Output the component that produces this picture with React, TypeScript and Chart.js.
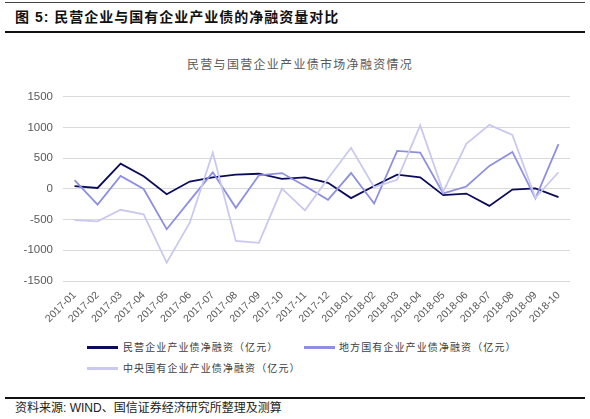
import React, { useEffect, useRef } from "react";
import { Chart, registerables } from "chart.js";

Chart.register(...registerables);

const categories = [
  "2017-01", "2017-02", "2017-03", "2017-04", "2017-05", "2017-06", "2017-07", "2017-08",
  "2017-09", "2017-10", "2017-11", "2017-12", "2018-01", "2018-02", "2018-03", "2018-04",
  "2018-05", "2018-06", "2018-07", "2018-08", "2018-09", "2018-10",
];

const privateNet = [47, 16, 413, 206, -85, 121, 190, 232, 248, 163, 187, 100, -149, 47, 232, 190, -101, -75, -276, -11, 10, -133];
const localSoeNet = [143, -254, 211, 0, -657, -190, 270, -308, 222, 259, 47, -178, 259, -238, 620, 592, -72, 40, 375, 603, -152, 732];
const centralSoeNet = [-508, -529, -339, -413, -1201, -550, 592, -847, -879, 5, -349, 170, 671, 30, 150, 1036, -45, 735, 1044, 880, -146, 272];

const yTicks = [-1500, -1000, -500, 0, 500, 1000, 1500];

const seriesNames = [
  "民营企业产业债净融资（亿元）",
  "地方国有企业产业债净融资（亿元）",
  "中央国有企业产业债净融资（亿元）",
];
const seriesColors = ["#0b0b5c", "#8f8fe2", "#c9c9f0"];

const cjk = '"Noto Sans CJK SC", "Liberation Sans", sans-serif';
const latin = '"Liberation Sans", "Noto Sans CJK SC", sans-serif';

export default function App() {
  const canvasRef = useRef<HTMLCanvasElement | null>(null);

  useEffect(() => {
    if (!canvasRef.current) return;
    const chart = new Chart(canvasRef.current, {
      type: "line",
      data: {
        labels: categories,
        datasets: [privateNet, localSoeNet, centralSoeNet].map((d, i) => ({
          label: seriesNames[i],
          data: d,
          borderColor: seriesColors[i],
          backgroundColor: seriesColors[i],
          borderWidth: 1.8,
          pointRadius: 0,
          tension: 0,
          fill: false,
          order: 3 - i,
        })),
      },
      options: {
        animation: false,
        responsive: false,
        maintainAspectRatio: false,
        devicePixelRatio: 1,
        layout: { padding: { top: 12, right: 20, left: 0, bottom: 0 } },
        plugins: {
          legend: { display: false },
          title: { display: false },
          tooltip: { enabled: false },
        },
        scales: {
          x: {
            offset: true,
            grid: { display: false, drawTicks: false },
            border: { display: false },
            ticks: {
              autoSkip: false,
              maxRotation: 45,
              minRotation: 45,
              padding: 8,
              color: "#595959",
              font: { family: latin, size: 10.5 },
            },
            afterFit: (scale: any) => {
              scale.height = 49;
            },
          },
          y: {
            min: -1500,
            max: 1500,
            afterBuildTicks: (scale: any) => {
              scale.ticks = yTicks.map((v) => ({ value: v }));
            },
            grid: { color: "#d9d9d9", lineWidth: 1, drawTicks: false },
            border: { display: false },
            ticks: {
              padding: 10,
              color: "#595959",
              font: { family: latin, size: 11.5 },
              callback: (v: any) => String(v),
            },
            afterFit: (scale: any) => {
              scale.width = 63;
            },
          },
        },
      },
    });
    return () => chart.destroy();
  }, []);

  const legendRow = (i: number, left: number, top: number, textLeft: number) => (
    <React.Fragment key={i}>
      <div style={{ position: "absolute", left, top: top - 1, width: 31, height: 2.5, background: seriesColors[i] }} />
      <div
        style={{
          position: "absolute",
          left: textLeft,
          top: top - 8,
          height: 16,
          lineHeight: "16px",
          fontFamily: cjk,
          fontSize: 10,
          letterSpacing: "1.1px",
          color: "#404040",
          whiteSpace: "nowrap",
        }}
      >
        {seriesNames[i]}
      </div>
    </React.Fragment>
  );

  return (
    <div
      style={{
        position: "fixed",
        left: 0,
        top: 0,
        width: 590,
        height: 419,
        background: "#ffffff",
        overflow: "hidden",
      }}
    >
      <div style={{ position: "absolute", left: 5, top: 2, width: 580, height: 1, background: "#444" }} />
      <div
        style={{
          position: "absolute",
          left: 15,
          top: 7,
          height: 20,
          lineHeight: "20px",
          fontFamily: latin,
          fontWeight: "bold",
          fontSize: 14,
          letterSpacing: "1px",
          color: "#111",
          whiteSpace: "nowrap",
        }}
      >
        图 5: 民营企业与国有企业产业债的净融资量对比
      </div>
      <div style={{ position: "absolute", left: 5, top: 31, width: 580, height: 2, background: "#111" }} />
      <div
        style={{
          position: "absolute",
          left: 187,
          top: 56,
          height: 16,
          lineHeight: "16px",
          fontFamily: cjk,
          fontSize: 12,
          letterSpacing: "1.3px",
          color: "#595959",
          whiteSpace: "nowrap",
        }}
      >
        民营与国营企业产业债市场净融资情况
      </div>
      <div style={{ position: "absolute", left: 0, top: 80, width: 590, height: 250 }}>
        <canvas ref={canvasRef} width={590} height={250} style={{ width: 590, height: 250, display: "block" }} />
      </div>
      {legendRow(0, 87, 347, 123)}
      {legendRow(1, 304, 347, 339)}
      {legendRow(2, 87, 368, 123)}
      <div style={{ position: "absolute", left: 5, top: 397, width: 580, height: 2, background: "#111" }} />
      <div
        style={{
          position: "absolute",
          left: 15,
          top: 400,
          height: 16,
          lineHeight: "16px",
          fontFamily: latin,
          fontSize: 12,
          color: "#222",
          whiteSpace: "nowrap",
        }}
      >
        资料来源: WIND、国信证券经济研究所整理及测算
      </div>
    </div>
  );
}
